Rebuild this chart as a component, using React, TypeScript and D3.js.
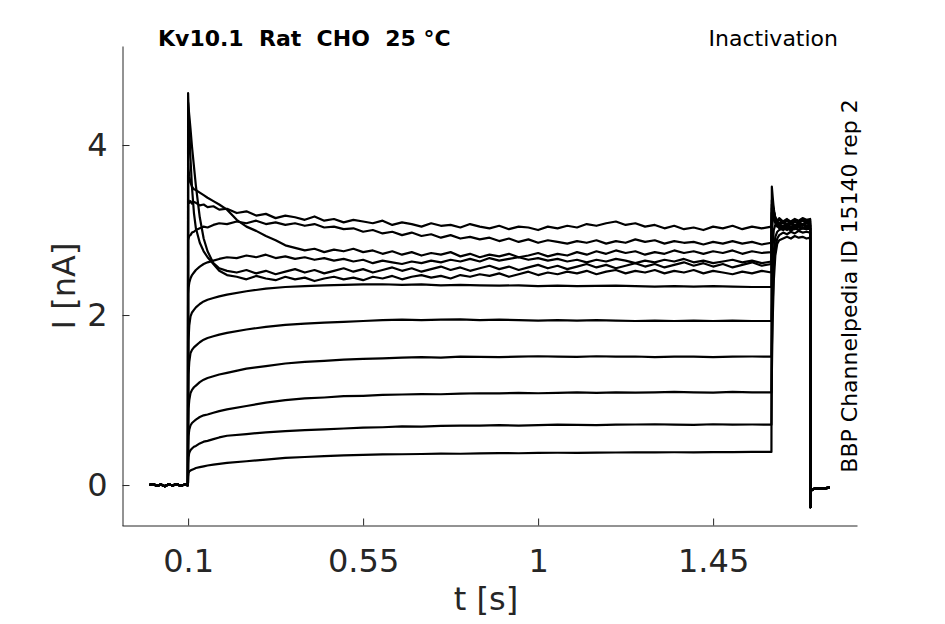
import React, { useEffect, useRef } from "react";
import * as d3 from "d3";

const width = 945;
const height = 624;

// holding current before the test pulse (all sweeps)
const tBase = [0, 0.01, 0.02, 0.03, 0.04, 0.05, 0.06, 0.07, 0.08, 0.09, 0.0995];
const iBase = [0.0, 0.012, -0.01, 0.006, -0.013, 0.009, -0.006, 0.011, -0.009, 0.004, 0.0];

// sample times during the pulse
const tSmooth = [
  0.1, 0.101, 0.103, 0.106, 0.11, 0.115, 0.12, 0.13, 0.14, 0.15, 0.165, 0.18, 0.2,
  0.25, 0.3, 0.35, 0.4, 0.45, 0.5, 0.55, 0.6, 0.65, 0.7, 0.75, 0.8, 0.85, 0.9, 0.95,
  1.0, 1.05, 1.1, 1.15, 1.2, 1.25, 1.3, 1.35, 1.4, 1.45, 1.5, 1.55, 1.6,
];
const tNoisy = [
  0.1, 0.101, 0.103, 0.106, 0.11, 0.115, 0.12, 0.13, 0.14, 0.15, 0.165, 0.18, 0.2,
  0.225, 0.25, 0.275, 0.3, 0.325, 0.35, 0.375, 0.4, 0.425, 0.45, 0.475, 0.5,
  0.525, 0.55, 0.575, 0.6, 0.625, 0.65, 0.675, 0.7, 0.725, 0.75, 0.775, 0.8,
  0.825, 0.85, 0.875, 0.9, 0.925, 0.95, 0.975, 1.0, 1.025, 1.05, 1.075, 1.1,
  1.125, 1.15, 1.175, 1.2, 1.225, 1.25, 1.275, 1.3, 1.325, 1.35, 1.375, 1.4,
  1.425, 1.45, 1.475, 1.5, 1.525, 1.55, 1.575, 1.6,
];
// tail step and return to holding
const tTail = [1.601, 1.603, 1.606, 1.61, 1.615, 1.62, 1.63, 1.64, 1.65, 1.66, 1.67, 1.68, 1.69, 1.6995];
const tOff = [1.7, 1.7008, 1.702, 1.705, 1.71, 1.72, 1.73, 1.74, 1.75];
const iOff = [-0.26, -0.08, -0.065, -0.055, -0.045, -0.04, -0.035, -0.036, -0.03];

// smooth sweeps (low voltages), values on tSmooth
const sweep1 = [0.1, 0.14, 0.16, 0.17, 0.18, 0.19, 0.2, 0.21, 0.22, 0.23, 0.24, 0.25, 0.26, 0.28, 0.3, 0.32, 0.33, 0.34, 0.35, 0.355, 0.36, 0.362, 0.365, 0.37, 0.368, 0.372, 0.375, 0.374, 0.378, 0.38, 0.379, 0.382, 0.383, 0.384, 0.385, 0.386, 0.385, 0.387, 0.388, 0.39, 0.39];
const sweep2 = [0.25, 0.33, 0.38, 0.41, 0.43, 0.45, 0.46, 0.49, 0.51, 0.52, 0.54, 0.56, 0.58, 0.6, 0.62, 0.635, 0.645, 0.655, 0.665, 0.675, 0.68, 0.69, 0.688, 0.695, 0.7, 0.698, 0.705, 0.7, 0.705, 0.71, 0.708, 0.705, 0.71, 0.712, 0.715, 0.71, 0.708, 0.715, 0.71, 0.712, 0.71];
const sweep3 = [0.45, 0.58, 0.65, 0.7, 0.73, 0.75, 0.77, 0.8, 0.82, 0.83, 0.85, 0.87, 0.89, 0.93, 0.97, 1.0, 1.02, 1.03, 1.045, 1.05, 1.06, 1.065, 1.07, 1.068, 1.075, 1.08, 1.078, 1.085, 1.08, 1.085, 1.09, 1.085, 1.09, 1.088, 1.09, 1.095, 1.09, 1.088, 1.095, 1.09, 1.09];
const sweep4 = [0.7, 0.9, 1.0, 1.08, 1.12, 1.15, 1.17, 1.21, 1.24, 1.26, 1.28, 1.3, 1.32, 1.37, 1.4, 1.43, 1.45, 1.46, 1.475, 1.485, 1.49, 1.5, 1.505, 1.5, 1.51, 1.508, 1.505, 1.51, 1.515, 1.51, 1.508, 1.515, 1.51, 1.512, 1.505, 1.51, 1.51, 1.505, 1.51, 1.512, 1.51];
const sweep5 = [1.0, 1.3, 1.45, 1.55, 1.59, 1.62, 1.64, 1.68, 1.71, 1.73, 1.75, 1.77, 1.79, 1.83, 1.86, 1.885, 1.9, 1.91, 1.92, 1.93, 1.94, 1.945, 1.94, 1.945, 1.95, 1.94, 1.945, 1.94, 1.935, 1.94, 1.935, 1.94, 1.935, 1.93, 1.935, 1.93, 1.935, 1.93, 1.935, 1.93, 1.93];
const sweep6 = [1.3, 1.7, 1.88, 1.98, 2.03, 2.06, 2.09, 2.13, 2.16, 2.18, 2.2, 2.22, 2.24, 2.28, 2.31, 2.33, 2.34, 2.35, 2.355, 2.36, 2.362, 2.355, 2.36, 2.35, 2.355, 2.35, 2.345, 2.35, 2.34, 2.345, 2.34, 2.342, 2.345, 2.34, 2.335, 2.34, 2.335, 2.34, 2.335, 2.33, 2.33];

// noisy sweeps (high voltages), values on tNoisy
const sweep7 = [2.25, 2.32, 2.38, 2.43, 2.47, 2.5, 2.53, 2.57, 2.6, 2.62, 2.64, 2.66, 2.68,
  2.67, 2.7, 2.68, 2.71, 2.67, 2.69, 2.66, 2.68, 2.65, 2.67, 2.64, 2.66,
  2.63, 2.65, 2.61, 2.64, 2.62, 2.6, 2.63, 2.61, 2.64, 2.62, 2.65, 2.63,
  2.66, 2.63, 2.67, 2.64, 2.66, 2.68, 2.65, 2.67, 2.64, 2.66, 2.63, 2.65,
  2.62, 2.65, 2.63, 2.66, 2.64, 2.61, 2.64, 2.62, 2.65, 2.63, 2.66, 2.62,
  2.64, 2.61, 2.63, 2.65, 2.62, 2.64, 2.61, 2.63];
const sweep8 = [4.61, 4.45, 4.2, 3.85, 3.5, 3.2, 3.02, 2.85, 2.75, 2.68, 2.6, 2.52, 2.47,
  2.45, 2.42, 2.46, 2.43, 2.41, 2.45, 2.42, 2.44, 2.4, 2.43, 2.45, 2.42,
  2.44, 2.41, 2.45, 2.43, 2.46, 2.42, 2.45, 2.47, 2.44, 2.46, 2.43, 2.47,
  2.45, 2.48, 2.46, 2.49, 2.45, 2.48, 2.51, 2.47, 2.5, 2.48, 2.51, 2.49,
  2.52, 2.48, 2.51, 2.53, 2.49, 2.52, 2.5, 2.53, 2.49, 2.52, 2.5, 2.53,
  2.49, 2.52, 2.5, 2.48, 2.51, 2.49, 2.52, 2.5];
const sweep9 = [4.5, 4.45, 4.35, 4.2, 3.98, 3.75, 3.52, 3.15, 2.9, 2.75, 2.61, 2.55, 2.52,
  2.5, 2.53, 2.49, 2.52, 2.48, 2.51, 2.54, 2.5, 2.53, 2.49, 2.52, 2.55,
  2.51, 2.54, 2.5, 2.53, 2.56, 2.52, 2.55, 2.51, 2.54, 2.57, 2.53, 2.56,
  2.52, 2.55, 2.58, 2.54, 2.57, 2.53, 2.56, 2.59, 2.55, 2.58, 2.54, 2.57,
  2.6, 2.56, 2.59, 2.55, 2.58, 2.61, 2.57, 2.6, 2.56, 2.59, 2.62, 2.58,
  2.61, 2.57, 2.6, 2.56, 2.59, 2.62, 2.58, 2.6];
const sweep10 = [3.79, 3.72, 3.63, 3.56, 3.51, 3.48, 3.47, 3.44, 3.41, 3.38, 3.34, 3.3, 3.24,
  3.12, 3.04, 2.99, 2.93, 2.88, 2.82, 2.79, 2.76, 2.78, 2.74, 2.77, 2.75,
  2.78, 2.74, 2.76, 2.72, 2.75, 2.71, 2.74, 2.7, 2.73, 2.71, 2.74, 2.69,
  2.72, 2.68, 2.71, 2.69, 2.72, 2.68, 2.7, 2.73, 2.69, 2.72, 2.7, 2.74,
  2.71, 2.75, 2.72, 2.76, 2.73, 2.75, 2.71, 2.74, 2.72, 2.76, 2.73, 2.75,
  2.72, 2.75, 2.73, 2.76, 2.72, 2.75, 2.73, 2.74];
const sweep11 = [2.88, 2.9, 2.93, 2.94, 2.97, 2.98, 3.0, 3.02, 3.04, 3.03, 3.06, 3.08, 3.07,
  3.1, 3.08, 3.11, 3.07, 3.09, 3.06, 3.08, 3.05, 3.07, 3.03, 3.04, 3.01,
  3.02, 2.98, 3.0, 2.96, 2.98, 2.94, 2.97, 2.93, 2.95, 2.91, 2.94, 2.9,
  2.92, 2.89, 2.91, 2.87, 2.9, 2.86, 2.89, 2.85, 2.88, 2.86, 2.84, 2.87,
  2.85, 2.88, 2.84, 2.87, 2.85, 2.89, 2.86, 2.88, 2.84, 2.87, 2.85, 2.86,
  2.83, 2.86, 2.84, 2.87, 2.84, 2.86, 2.83, 2.85];
const sweep12 = [3.33, 3.35, 3.32, 3.34, 3.31, 3.33, 3.32, 3.29, 3.3, 3.27, 3.28, 3.24, 3.25,
  3.2, 3.22, 3.17, 3.19, 3.14, 3.17, 3.15, 3.12, 3.16, 3.11, 3.13, 3.09,
  3.12, 3.1, 3.08, 3.11, 3.06, 3.09, 3.07, 3.04, 3.08, 3.05, 3.06, 3.03,
  3.07, 3.04, 3.02, 3.05, 3.01, 3.04, 3.03, 3.0, 3.04, 3.02, 3.05, 3.03,
  3.07, 3.05, 3.08, 3.1, 3.06, 3.08, 3.04, 3.06, 3.02, 3.05, 3.01, 3.03,
  3.0, 3.04, 3.02, 3.05, 3.01, 3.04, 3.02, 3.04];

// tail currents, values on tTail
const tail1 = [3.51, 3.4, 3.25, 3.13, 3.07, 3.04, 3.02, 3.04, 3.01, 3.03, 3.0, 3.02, 3.01, 3.02];
const tail2 = [1.3, 1.9, 2.4, 2.7, 2.84, 2.88, 2.9, 2.92, 2.9, 2.93, 2.91, 2.92, 2.9, 2.91];
const tail3 = [1.6, 2.1, 2.55, 2.8, 2.9, 2.94, 2.97, 2.95, 2.98, 2.96, 2.99, 2.97, 2.98, 2.97];
const tail4 = [2.0, 2.4, 2.75, 2.92, 2.98, 3.0, 3.02, 3.0, 3.03, 3.01, 3.04, 3.02, 3.03, 3.02];
const tail5 = [2.5, 2.8, 3.0, 3.06, 3.07, 3.06, 3.05, 3.07, 3.04, 3.06, 3.05, 3.07, 3.05, 3.06];
const tail6 = [2.9, 3.1, 3.15, 3.12, 3.09, 3.08, 3.1, 3.07, 3.09, 3.06, 3.08, 3.07, 3.09, 3.08];
const tail7 = [3.3, 3.28, 3.2, 3.12, 3.08, 3.06, 3.09, 3.05, 3.08, 3.04, 3.07, 3.05, 3.08, 3.06];
const tail8 = [3.2, 3.22, 3.16, 3.1, 3.05, 3.02, 3.0, 3.03, 2.99, 3.02, 3.0, 3.03, 3.01, 3.02];
const tail9 = [3.25, 3.3, 3.22, 3.15, 3.1, 3.12, 3.08, 3.11, 3.07, 3.1, 3.08, 3.11, 3.09, 3.1];
const tail10 = [3.35, 3.32, 3.22, 3.14, 3.1, 3.13, 3.09, 3.12, 3.1, 3.13, 3.11, 3.14, 3.12, 3.13];
const tail11 = [3.1, 3.15, 3.12, 3.08, 3.04, 3.07, 3.03, 3.06, 3.02, 3.05, 3.03, 3.06, 3.04, 3.05];
const tail12 = [3.2, 3.25, 3.18, 3.14, 3.11, 3.14, 3.1, 3.13, 3.09, 3.12, 3.1, 3.13, 3.11, 3.12];

const xTicks = [0.1, 0.55, 1, 1.45];
const yTicks = [0, 2, 4];

type Sweep = { t: number[]; i: number[]; tail: number[] };

const sweeps: Sweep[] = [
  { t: tSmooth, i: sweep1, tail: tail1 },
  { t: tSmooth, i: sweep2, tail: tail2 },
  { t: tSmooth, i: sweep3, tail: tail3 },
  { t: tSmooth, i: sweep4, tail: tail4 },
  { t: tSmooth, i: sweep5, tail: tail5 },
  { t: tSmooth, i: sweep6, tail: tail6 },
  { t: tNoisy, i: sweep7, tail: tail7 },
  { t: tNoisy, i: sweep8, tail: tail8 },
  { t: tNoisy, i: sweep9, tail: tail9 },
  { t: tNoisy, i: sweep10, tail: tail10 },
  { t: tNoisy, i: sweep11, tail: tail11 },
  { t: tNoisy, i: sweep12, tail: tail12 },
];

const font = "'DejaVu Sans', sans-serif";
const textColor = "#262626";

const App = () => {
  const ref = useRef<any>(null);

  useEffect(() => {
    const svg = d3.select(ref.current);
    svg.selectAll("*").remove();

    const x = d3.scaleLinear().domain([-0.07, 1.82]).range([122, 857]);
    const y = d3.scaleLinear().domain([-0.476, 5.165]).range([525.5, 46]);

    svg.append("rect").attr("width", width).attr("height", height).attr("fill", "white");

    const line = d3
      .line<[number, number]>()
      .x((d) => x(d[0]))
      .y((d) => y(d[1]));

    // one path per sweep: holding, pulse, tail, return
    const paths = sweeps.map((s) => {
      const pts: [number, number][] = [];
      tBase.forEach((t, k) => pts.push([t, iBase[k]]));
      s.t.forEach((t, k) => pts.push([t, s.i[k]]));
      tTail.forEach((t, k) => pts.push([t, s.tail[k]]));
      tOff.forEach((t, k) => pts.push([t, iOff[k]]));
      return pts;
    });

    svg
      .append("g")
      .selectAll("path")
      .data(paths)
      .enter()
      .append("path")
      .attr("d", (d) => line(d))
      .attr("fill", "none")
      .attr("stroke", "black")
      .attr("stroke-width", 2.2)
      .attr("stroke-linejoin", "round");

    // axes, MATLAB style (ticks inside, no box)
    const xAxis = svg
      .append("g")
      .attr("transform", "translate(0,525.5)")
      .call(
        d3
          .axisBottom(x)
          .tickValues(xTicks)
          .tickFormat((d: any) => String(d))
          .tickSizeInner(-7)
          .tickSizeOuter(0)
          .tickPadding(24)
      );
    const yAxis = svg
      .append("g")
      .attr("transform", "translate(122.5,0)")
      .call(
        d3
          .axisLeft(y)
          .tickValues(yTicks)
          .tickFormat((d: any) => String(d))
          .tickSizeInner(-7)
          .tickSizeOuter(0)
          .tickPadding(15)
      );
    [xAxis, yAxis].forEach((g) => {
      g.attr("font-family", font).attr("font-size", 32);
      g.selectAll("path, line").attr("stroke", textColor).attr("stroke-width", 1);
      g.selectAll("text").attr("fill", textColor);
    });

    svg
      .append("text")
      .attr("x", 486)
      .attr("y", 610)
      .attr("text-anchor", "middle")
      .attr("font-family", font)
      .attr("font-size", 32)
      .attr("fill", textColor)
      .text("t [s]");

    svg
      .append("text")
      .attr("transform", "translate(75,286) rotate(-90)")
      .attr("text-anchor", "middle")
      .attr("font-family", font)
      .attr("font-size", 32)
      .attr("fill", textColor)
      .text("I [nA]");

    svg
      .append("text")
      .attr("x", 158)
      .attr("y", 46)
      .attr("font-family", font)
      .attr("font-size", 22)
      .attr("font-weight", "bold")
      .style("white-space", "pre")
      .text("Kv10.1  Rat  CHO  25 °C");

    svg
      .append("text")
      .attr("x", 838)
      .attr("y", 46)
      .attr("text-anchor", "end")
      .attr("font-family", font)
      .attr("font-size", 22)
      .text("Inactivation");

    svg
      .append("text")
      .attr("transform", "translate(857,286) rotate(-90)")
      .attr("text-anchor", "middle")
      .attr("font-family", font)
      .attr("font-size", 22)
      .text("BBP Channelpedia ID 15140 rep 2");
  }, []);

  return (
    <svg
      ref={ref}
      width={width}
      height={height}
      style={{ position: "absolute", left: 0, top: 0, display: "block" }}
    ></svg>
  );
};

export default App;
